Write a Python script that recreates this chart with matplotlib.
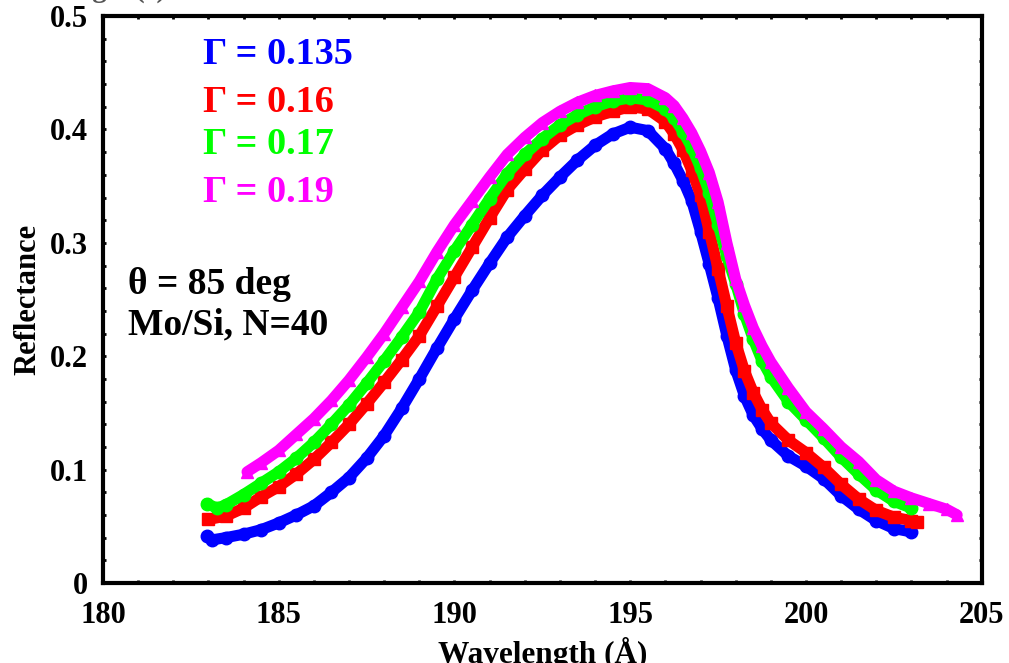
#! /usr/bin/env python

# Reflectance of Mo/Si multilayer vs wavelength for several Gamma values

import numpy as np
import matplotlib
matplotlib.use("Agg")
import matplotlib.pyplot as plt

# ---- data (wavelength in A, reflectance) ----
wl_135 = [182.95, 183.1, 183.5, 184.0, 184.5, 185.0, 185.5, 186.0, 186.5, 187.0, 187.5,
          188.0, 188.5, 189.0, 189.5, 190.0, 190.5, 191.0, 191.5, 192.0, 192.5,
          193.0, 193.5, 194.0, 194.5, 195.0, 195.5, 196.0, 196.25, 196.5, 196.75,
          197.0, 197.25, 197.5, 197.75, 198.0, 198.25, 198.5, 198.75, 199.0, 199.5,
          200.0, 200.5, 201.0, 201.5, 202.0, 202.5, 203.0]
R_135 = [0.041, 0.038, 0.040, 0.043, 0.047, 0.053, 0.060, 0.068, 0.080, 0.093, 0.110,
         0.130, 0.154, 0.180, 0.207, 0.233, 0.258, 0.282, 0.305, 0.324, 0.342,
         0.358, 0.373, 0.386, 0.396, 0.402, 0.399, 0.383, 0.370, 0.355, 0.337,
         0.310, 0.281, 0.251, 0.218, 0.188, 0.165, 0.148, 0.136, 0.126, 0.112,
         0.103, 0.092, 0.077, 0.065, 0.055, 0.048, 0.045]

wl_16 = [183.0, 183.5, 184.0, 184.5, 185.0, 185.5, 186.0, 186.5, 187.0, 187.5,
         188.0, 188.5, 189.0, 189.5, 190.0, 190.5, 191.0, 191.5, 192.0, 192.5,
         193.0, 193.5, 194.0, 194.5, 195.0, 195.5, 196.0, 196.25, 196.5, 196.75,
         197.0, 197.25, 197.5, 197.75, 198.0, 198.25, 198.5, 198.75, 199.0, 199.5,
         200.0, 200.5, 201.0, 201.5, 202.0, 202.5, 203.0, 203.15]
R_16 = [0.056, 0.059, 0.066, 0.076, 0.085, 0.096, 0.109, 0.124, 0.140, 0.158,
        0.177, 0.197, 0.218, 0.244, 0.270, 0.296, 0.322, 0.347, 0.365, 0.382,
        0.395, 0.404, 0.411, 0.416, 0.420, 0.418, 0.407, 0.396, 0.382, 0.364,
        0.342, 0.310, 0.277, 0.244, 0.212, 0.187, 0.168, 0.153, 0.141, 0.126,
        0.115, 0.102, 0.087, 0.074, 0.064, 0.058, 0.055, 0.054]

wl_17 = [182.95, 183.25, 183.5, 184.0, 184.5, 185.0, 185.5, 186.0, 186.5, 187.0, 187.5,
         188.0, 188.5, 189.0, 189.5, 190.0, 190.5, 191.0, 191.5, 192.0, 192.5,
         193.0, 193.5, 194.0, 194.5, 195.0, 195.5, 196.0, 196.25, 196.5, 196.75,
         197.0, 197.25, 197.5, 197.75, 198.0, 198.25, 198.5, 198.75, 199.0, 199.5,
         200.0, 200.5, 201.0, 201.5, 202.0, 202.5, 203.0]
R_17 = [0.070, 0.066, 0.069, 0.078, 0.088, 0.098, 0.110, 0.124, 0.140, 0.157, 0.176,
        0.196, 0.217, 0.239, 0.268, 0.293, 0.316, 0.339, 0.361, 0.378, 0.392,
        0.404, 0.413, 0.420, 0.425, 0.428, 0.426, 0.418, 0.410, 0.398, 0.384,
        0.366, 0.344, 0.316, 0.288, 0.264, 0.237, 0.215, 0.196, 0.182, 0.160,
        0.144, 0.128, 0.111, 0.096, 0.082, 0.072, 0.066]

wl_19 = [184.1, 184.5, 185.0, 185.5, 186.0, 186.5, 187.0, 187.5,
         188.0, 188.5, 189.0, 189.5, 190.0, 190.5, 191.0, 191.5, 192.0, 192.5,
         193.0, 193.5, 194.0, 194.5, 195.0, 195.5, 196.0, 196.25, 196.5, 196.75,
         197.0, 197.25, 197.5, 197.75, 198.0, 198.25, 198.5, 198.75, 199.0, 199.5,
         200.0, 200.5, 201.0, 201.5, 202.0, 202.5, 203.0, 203.5, 204.0, 204.3]
R_19 = [0.098, 0.106, 0.117, 0.131, 0.145, 0.161, 0.179, 0.199,
        0.220, 0.243, 0.266, 0.292, 0.316, 0.337, 0.358, 0.378, 0.393, 0.406,
        0.416, 0.424, 0.430, 0.434, 0.437, 0.436, 0.428, 0.421, 0.410, 0.397,
        0.381, 0.362, 0.336, 0.300, 0.268, 0.245, 0.225, 0.209, 0.195, 0.172,
        0.151, 0.136, 0.120, 0.107, 0.091, 0.081, 0.075, 0.070, 0.065, 0.060]

labels = ["\u0393 = 0.135", "\u0393 = 0.16", "\u0393 = 0.17", "\u0393 = 0.19"]
colors = ["#0000ff", "#ff0000", "#00ff00", "#ff00ff"]
markers = ["o", "s", "o", "^"]

plt.rcParams['font.family'] = ['Liberation Serif', 'DejaVu Serif']
plt.rcParams['font.weight'] = 'bold'

fig = plt.figure(figsize=(10.09, 6.63), dpi=100)
ax = fig.add_axes([0.102, 0.1207, 0.871, 0.855])

series = [(wl_135, R_135), (wl_16, R_16), (wl_17, R_17), (wl_19, R_19)]
for (wl, R), c, m in zip(series, colors, markers):
    ax.plot(wl, R, color=c, lw=8, marker=m, ms=9, mec=c, mfc=c,
            solid_capstyle='round', solid_joinstyle='round')

# plot formating options
ax.set_xlim(180, 205)
ax.set_ylim(0, 0.5)
ax.set_xticks([180, 185, 190, 195, 200, 205])
ax.set_xticks(np.arange(180, 205, 1), minor=True)
ax.set_yticks([0, 0.1, 0.2, 0.3, 0.4, 0.5])
ax.set_yticklabels(["0", "0.1", "0.2", "0.3", "0.4", "0.5"])
ax.set_yticks(np.arange(0, 0.5, 0.02), minor=True)
ax.tick_params(which='both', direction='in', top=True, right=True,
               length=2.5, width=2, labelsize=22)
ax.tick_params(axis='x', pad=13)
ax.tick_params(axis='y', pad=11)
for lab in ax.get_xticklabels() + ax.get_yticklabels():
    lab.set_fontweight('bold')
for s in ax.spines.values():
    s.set_linewidth(3)

ax.set_xlabel("Wavelength (\u00c5)", fontsize=22.5, fontweight='bold', labelpad=5)
ax.set_ylabel("Reflectance", fontsize=22, fontweight='bold', labelpad=5)

# Gamma labels
ty = [55, 102, 145, 192]
for lab, c, y in zip(labels, colors, ty):
    fig.text(203 / 1009, 1 - y / 663, lab, color=c, fontsize=27.5,
             fontweight='bold', va='center', ha='left')

fig.text(128 / 1009, 1 - 285 / 663, "\u03b8 = 85 deg", fontsize=27,
         fontweight='bold', va='center', ha='left')
fig.text(128 / 1009, 1 - 325 / 663, "Mo/Si, N=40", fontsize=27,
         fontweight='bold', va='center', ha='left')

# title mostly cut off by the top of the picture
fig.text(55 / 1009, 1 + 3 / 663, "Angle (\u00b0)", fontsize=21,
         fontweight='bold', va='baseline', ha='left', color='#555555')

plt.savefig("out.png", dpi=100)
